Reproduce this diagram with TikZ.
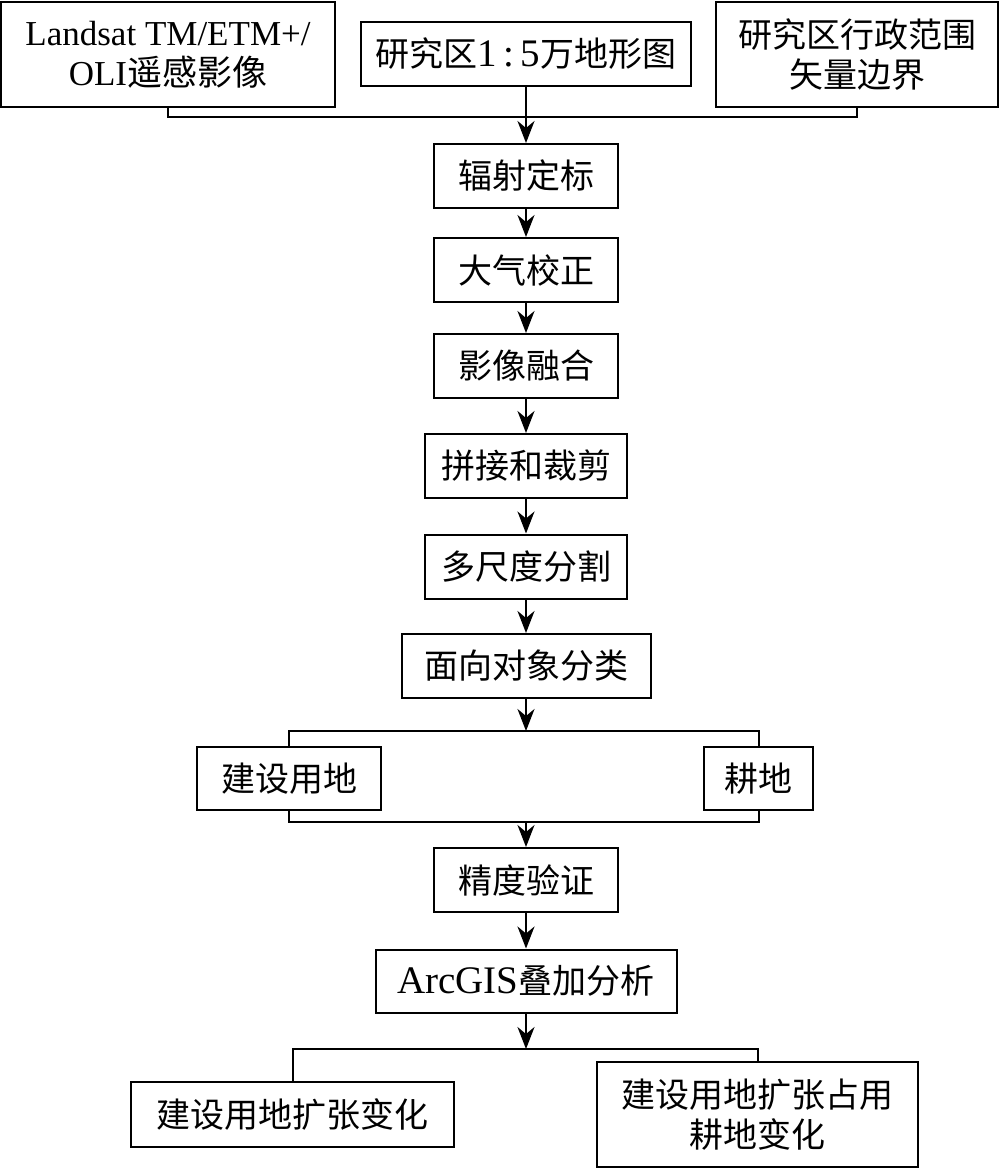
\documentclass[tikz,border=0pt]{standalone}
\usepackage{fontspec}
\setmainfont{Liberation Serif}
\newfontfamily\cjk{Noto Sans CJK SC}
\newcommand{\latin}[1]{{\fontsize{19.5}{20}\selectfont #1}}
\usepackage{tikz}
\usetikzlibrary{positioning,arrows.meta,calc}

\tikzset{
  box/.style={draw, line width=1pt, inner sep=0pt, align=center,
    font=\fontsize{17}{20}\selectfont},
  line/.style={line width=1pt},
  arr/.style={line width=1pt, -{Stealth[length=11pt,width=8.5pt,inset=3.5pt]}}
}

\begin{document}
\begin{tikzpicture}[x=0.5pt,y=-0.5pt]
    % Draw page frame
    \useasboundingbox (0,0) rectangle (1000,1169);

    % Draw input data
    \node[box,minimum width=167pt,minimum height=52.5pt,font=\fontsize{17.5}{20}\selectfont] (ls) at (168,54.5) {Landsat TM/ETM+/\\OLI{\cjk 遥感影像}};
    \node[box,minimum width=165pt,minimum height=32pt] (topo) at (526,54) {{\cjk 研究区}\latin{1\,:\,5}{\cjk 万地形图}};
    \node[box,minimum width=141pt,minimum height=52.5pt] (admin) at (857,54.5) {{\cjk 研究区行政范围}\\{\cjk 矢量边界}};

    % Draw preprocessing steps
    \node[box,minimum width=92pt,minimum height=32pt] (rad) at (526,176) {{\cjk 辐射定标}};
    \node[box,minimum width=92pt,minimum height=32pt] (atm) at (526,270) {{\cjk 大气校正}};
    \node[box,minimum width=92pt,minimum height=32pt] (fus) at (526,366) {{\cjk 影像融合}};
    \node[box,minimum width=101pt,minimum height=32pt] (mos) at (526,466) {{\cjk 拼接和裁剪}};
    \node[box,minimum width=101pt,minimum height=32pt] (seg) at (526,566.5) {{\cjk 多尺度分割}};
    \node[box,minimum width=124.5pt,minimum height=32pt] (obj) at (526,666) {{\cjk 面向对象分类}};

    % Draw classes
    \node[box,minimum width=92pt,minimum height=31.5pt] (bld) at (289,778.5) {{\cjk 建设用地}};
    \node[box,minimum width=54.5pt,minimum height=31.5pt] (crop) at (758.5,778.5) {{\cjk 耕地}};

    % Draw analysis
    \node[box,minimum width=92pt,minimum height=32pt] (acc) at (526,880) {{\cjk 精度验证}};
    \node[box,minimum width=150.5pt,minimum height=31.5pt] (arc) at (526,981) {\latin{ArcGIS}{\cjk 叠加分析}};
    \node[box,minimum width=161.5pt,minimum height=32.5pt] (exp) at (292.5,1114.5) {{\cjk 建设用地扩张变化}};
    \node[box,minimum width=160.5pt,minimum height=52.5pt] (occ) at (757.5,1114.5) {{\cjk 建设用地扩张占用}\\{\cjk 耕地变化}};

    % Draw bus lines
    \coordinate (topbus) at (526,117);
    \coordinate (split) at (526,731);
    \coordinate (merge) at (526,822);
    \coordinate (split2) at (526,1049);
    \draw[line] (ls.south) |- (topbus) -| (admin.south);
    \draw[line] (bld.north) |- (split) -| (crop.north);
    \draw[line] (bld.south) |- (merge) -| (crop.south);
    \draw[line] (exp.north) |- (split2) -| (occ.north);

    % Draw arrows
    \draw[arr] (topo.south) -- (rad.north);
    \draw[arr] (rad) -- (atm);
    \draw[arr] (atm) -- (fus);
    \draw[arr] (fus) -- (mos);
    \draw[arr] (mos) -- (seg);
    \draw[arr] (seg) -- (obj);
    \draw[arr] (obj) -- (split);
    \draw[arr] (merge) -- (acc);
    \draw[arr] (acc) -- (arc);
    \draw[arr] (arc) -- (split2);
\end{tikzpicture}
\end{document}
